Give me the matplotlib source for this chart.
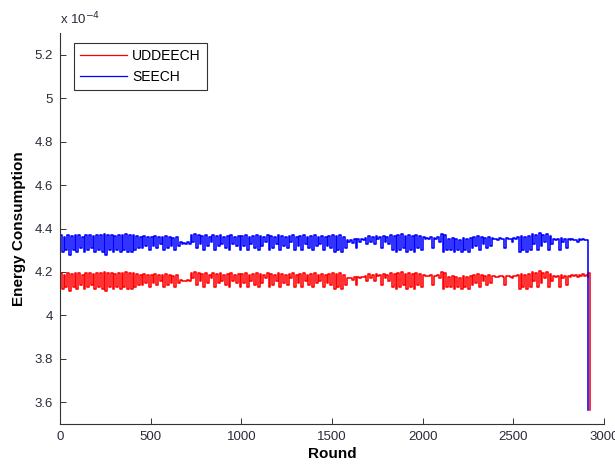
import numpy as np
import matplotlib.pyplot as plt
from matplotlib.ticker import FormatStrFormatter

plt.rcParams['font.family'] = ['Liberation Sans', 'DejaVu Sans']

# energy per round in units of 1e-4: upper and lower envelope of each 20-round window
rounds = np.arange(0, 2901, 20)

seech_hi = [
    4.37, 4.36, 4.37, 4.365, 4.37, 4.37, 4.36, 4.37, 4.37, 4.365, 4.37, 4.37, 4.375, 4.37, 4.37, 4.365,
    4.37, 4.37, 4.375, 4.37, 4.37, 4.365,
    4.36, 4.365, 4.36, 4.36, 4.365, 4.36, 4.36, 4.365, 4.36, 4.355, 4.36,
    4.34, 4.335, 4.34,
    4.37, 4.375, 4.37, 4.365, 4.37, 4.36, 4.37, 4.365, 4.37, 4.36, 4.365, 4.37, 4.36, 4.365,
    4.365, 4.37, 4.36, 4.365, 4.37, 4.365, 4.36, 4.37, 4.365, 4.36, 4.37, 4.365, 4.36, 4.365, 4.37, 4.36,
    4.365, 4.37, 4.36, 4.365, 4.37, 4.36, 4.365, 4.36, 4.365,
    4.37, 4.365, 4.37, 4.36,
    4.345, 4.345, 4.35, 4.35, 4.35, 4.355,
    4.365, 4.36, 4.365, 4.36, 4.365, 4.36,
    4.37, 4.365, 4.37, 4.375, 4.365, 4.37, 4.365, 4.37, 4.365,
    4.36, 4.355, 4.36, 4.355, 4.36,
    4.375, 4.37,
    4.35, 4.355, 4.35, 4.345, 4.355, 4.35, 4.355,
    4.36, 4.365, 4.36, 4.355, 4.36,
    4.355, 4.35, 4.355, 4.35, 4.355, 4.35, 4.355,
    4.36, 4.365, 4.36, 4.365,
    4.375, 4.37, 4.38, 4.37, 4.375, 4.365,
    4.35, 4.35, 4.355, 4.35, 4.35,
    4.35, 4.345, 4.35, 4.35, 4.345,
]
seech_lo = [
    4.29, 4.30, 4.28, 4.30, 4.29, 4.31, 4.29, 4.30, 4.31, 4.29, 4.30, 4.29, 4.28, 4.30, 4.29, 4.30,
    4.29, 4.30, 4.29, 4.29, 4.30, 4.31,
    4.31, 4.32, 4.30, 4.32, 4.31, 4.33, 4.30, 4.31, 4.32, 4.30, 4.32,
    4.33, 4.33, 4.33,
    4.34, 4.31, 4.33, 4.30, 4.32, 4.34, 4.30, 4.32, 4.33, 4.31, 4.30, 4.33, 4.32, 4.30,
    4.32, 4.30, 4.33, 4.31, 4.30, 4.32, 4.34, 4.30, 4.31, 4.33, 4.30, 4.32, 4.31, 4.34, 4.30, 4.32,
    4.30, 4.33, 4.31, 4.30, 4.32, 4.33, 4.30, 4.32, 4.31,
    4.29, 4.30, 4.29, 4.31,
    4.34, 4.335, 4.31, 4.34, 4.345, 4.33,
    4.34, 4.33, 4.35, 4.31, 4.34, 4.33,
    4.30, 4.29, 4.30, 4.31, 4.29, 4.30, 4.29, 4.31, 4.30,
    4.35, 4.35, 4.31, 4.35, 4.34,
    4.29, 4.30,
    4.30, 4.29, 4.30, 4.29, 4.30, 4.29, 4.31,
    4.32, 4.30, 4.33, 4.31, 4.32,
    4.35, 4.345, 4.35, 4.31, 4.35, 4.34, 4.35,
    4.29, 4.30, 4.29, 4.30,
    4.33, 4.30, 4.32, 4.34, 4.30, 4.33,
    4.345, 4.30, 4.34, 4.31, 4.345,
    4.345, 4.34, 4.345, 4.345, 4.34,
]
seech_tail_rounds = [2910]
seech_tail = [3.565]

uddeech_hi = [
    4.195, 4.185, 4.195, 4.19, 4.195, 4.195, 4.185, 4.195, 4.195, 4.19, 4.195, 4.195, 4.20, 4.195, 4.195, 4.19,
    4.195, 4.195, 4.20, 4.195, 4.195, 4.19,
    4.185, 4.19, 4.185, 4.185, 4.19, 4.185, 4.185, 4.19, 4.185, 4.18, 4.185,
    4.165, 4.16, 4.165,
    4.195, 4.20, 4.195, 4.19, 4.195, 4.185, 4.195, 4.19, 4.195, 4.185, 4.19, 4.195, 4.185, 4.19,
    4.19, 4.195, 4.185, 4.19, 4.195, 4.19, 4.185, 4.195, 4.19, 4.185, 4.195, 4.19, 4.185, 4.19, 4.195, 4.185,
    4.19, 4.195, 4.185, 4.19, 4.195, 4.185, 4.19, 4.185, 4.19,
    4.195, 4.19, 4.195, 4.185,
    4.17, 4.17, 4.175, 4.175, 4.175, 4.18,
    4.19, 4.185, 4.19, 4.185, 4.19, 4.185,
    4.195, 4.19, 4.195, 4.20, 4.19, 4.195, 4.19, 4.195, 4.19,
    4.185, 4.18, 4.185, 4.18, 4.185,
    4.20, 4.195,
    4.175, 4.18, 4.175, 4.17, 4.18, 4.175, 4.18,
    4.185, 4.19, 4.185, 4.18, 4.185,
    4.18, 4.175, 4.18, 4.175, 4.18, 4.175, 4.18,
    4.185, 4.19, 4.185, 4.19,
    4.20, 4.195, 4.205, 4.195, 4.20, 4.19,
    4.18, 4.18, 4.185, 4.18, 4.18,
    4.185, 4.185, 4.185, 4.19, 4.185,
]
uddeech_lo = [
    4.12, 4.13, 4.11, 4.13, 4.12, 4.14, 4.12, 4.13, 4.14, 4.12, 4.13, 4.12, 4.11, 4.13, 4.12, 4.13,
    4.12, 4.13, 4.12, 4.12, 4.13, 4.14,
    4.14, 4.15, 4.13, 4.15, 4.14, 4.16, 4.13, 4.14, 4.15, 4.13, 4.15,
    4.16, 4.16, 4.16,
    4.17, 4.14, 4.16, 4.13, 4.15, 4.17, 4.13, 4.15, 4.16, 4.14, 4.13, 4.16, 4.15, 4.13,
    4.15, 4.13, 4.16, 4.14, 4.13, 4.15, 4.17, 4.13, 4.14, 4.16, 4.13, 4.15, 4.14, 4.17, 4.13, 4.15,
    4.13, 4.16, 4.14, 4.13, 4.15, 4.16, 4.13, 4.15, 4.14,
    4.12, 4.13, 4.12, 4.14,
    4.17, 4.165, 4.14, 4.17, 4.175, 4.16,
    4.17, 4.16, 4.18, 4.14, 4.17, 4.16,
    4.13, 4.12, 4.13, 4.14, 4.12, 4.13, 4.12, 4.14, 4.13,
    4.18, 4.18, 4.14, 4.18, 4.17,
    4.12, 4.13,
    4.13, 4.12, 4.13, 4.12, 4.13, 4.12, 4.14,
    4.15, 4.13, 4.16, 4.14, 4.15,
    4.18, 4.175, 4.18, 4.14, 4.18, 4.17, 4.18,
    4.12, 4.13, 4.12, 4.13,
    4.16, 4.13, 4.15, 4.17, 4.13, 4.16,
    4.175, 4.13, 4.17, 4.14, 4.175,
    4.18, 4.175, 4.18, 4.18, 4.175,
]
uddeech_tail_rounds = [2910, 2920]
uddeech_tail = [4.195, 3.565]


def envelope_trace(hi, lo, tail_x, tail_y):
    # each window: upper value for its first half, lower value for its second half
    x = np.column_stack([rounds, rounds + 10]).ravel()
    y = np.column_stack([hi, lo]).ravel()
    return np.concatenate([x, tail_x]), np.concatenate([y, tail_y])


fig = plt.figure(figsize=(6.15, 4.68), dpi=100)
ax = fig.add_axes([0.0976, 0.094, 0.8846, 0.8355])

x, y = envelope_trace(uddeech_hi, uddeech_lo, uddeech_tail_rounds, uddeech_tail)
ax.plot(x, y, color='#ff0000', lw=1.15, drawstyle='steps-post', label='UDDEECH')
x, y = envelope_trace(seech_hi, seech_lo, seech_tail_rounds, seech_tail)
ax.plot(x, y, color='#0000ff', lw=1.15, drawstyle='steps-post', label='SEECH')

ax.set_xlim(0, 3000)
ax.set_ylim(3.5, 5.3)
ax.set_xticks(np.arange(0, 3001, 500))
ax.set_yticks(np.arange(3.6, 5.21, 0.2))
ax.yaxis.set_major_formatter(FormatStrFormatter('%g'))

for side in ['top', 'right']:
    ax.spines[side].set_visible(False)
for side in ['left', 'bottom']:
    ax.spines[side].set_color('#333333')
    ax.spines[side].set_linewidth(0.8)
ax.tick_params(direction='in', length=4, width=0.7, color='#333333',
               labelsize=9.5, labelcolor='#2a2a3a', pad=5)

ax.set_xlabel('Round', fontsize=11, fontweight='bold', labelpad=3)
ax.set_ylabel('Energy Consumption', fontsize=11, fontweight='bold', labelpad=6)
ax.text(0.0, 1.015, r'x 10$^{-4}$', transform=ax.transAxes, fontsize=9.5,
        color='#2a2a3a', va='bottom', ha='left')

leg = ax.legend(loc='upper left', bbox_to_anchor=(0.025, 0.975), borderaxespad=0,
                fontsize=10, handlelength=3.4, labelspacing=0.5, borderpad=0.45,
                handletextpad=0.35, fancybox=False, framealpha=1,
                edgecolor='#333333')
leg.get_frame().set_linewidth(0.8)
for line in leg.get_lines():
    line.set_linewidth(0.9)

fig.savefig('out.png', dpi=100)
